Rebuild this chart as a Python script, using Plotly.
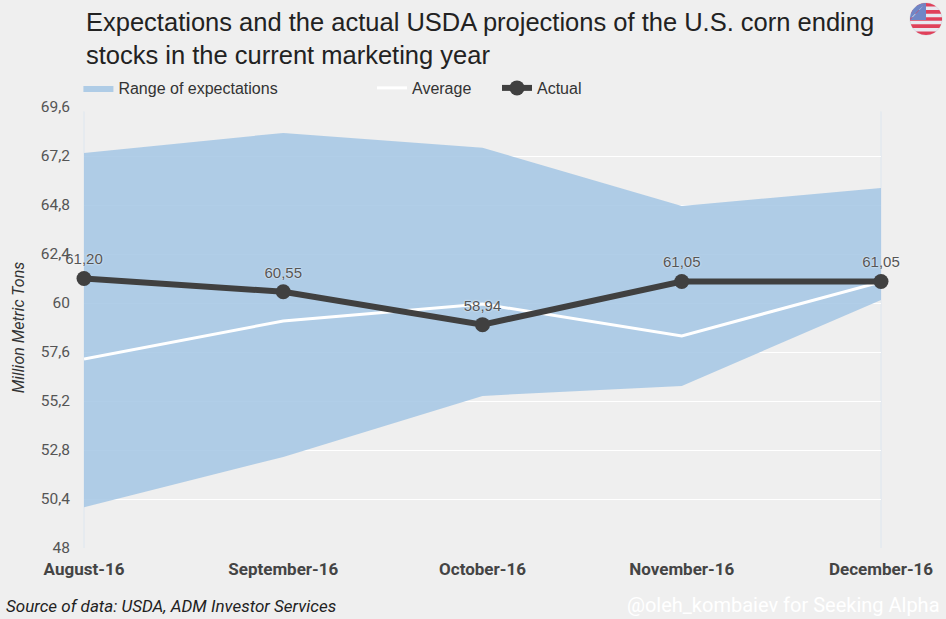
import plotly.graph_objects as go
import math

months = ["August-16", "September-16", "October-16", "November-16", "December-16"]
range_high = [67.35, 68.33, 67.6, 64.75, 65.63]
range_low = [50.0, 52.46, 55.45, 55.94, 60.15]
average = [57.26, 59.12, 59.95, 58.39, 61.03]
actual = [61.20, 60.55, 58.94, 61.05, 61.05]
actual_labels = ["61,20", "60,55", "58,94", "61,05", "61,05"]
y_ticks = [48, 50.4, 52.8, 55.2, 57.6, 60, 62.4, 64.8, 67.2, 69.6]

BG = "#efefef"
FONT = "Roboto, 'Noto Sans', sans-serif"
SANS = "'Liberation Sans', Arial, sans-serif"

fig = go.Figure()

fig.add_trace(go.Scatter(
    x=months + months[::-1],
    y=range_high + range_low[::-1],
    fill="toself",
    fillcolor="rgba(163,197,228,0.85)",
    line=dict(width=0, color="rgba(163,197,228,0.85)"),
    mode="lines",
    name="Range of expectations",
    hoverinfo="skip",
    legend="legend",
))

fig.add_trace(go.Scatter(
    x=months, y=average, mode="lines",
    line=dict(color="white", width=3),
    name="Average", legend="legend2",
))

fig.add_trace(go.Scatter(
    x=months, y=actual, mode="lines+markers+text",
    line=dict(color="#404040", width=6),
    marker=dict(color="#404040", size=15),
    text=actual_labels, textposition="top center",
    textfont=dict(size=15, color="#555555", family=SANS, shadow="0px 0px 2px white"),
    cliponaxis=False,
    name="Actual", legend="legend3",
))

# US flag icon (decoration)
def px2paper(px, py):
    return (px - 84) / 797, (548 - py) / 441

cx, cy, r = 926, 19, 16
shapes = []
def circle_path(n=40):
    pts = []
    for i in range(n + 1):
        a = 2 * math.pi * i / n
        pts.append(px2paper(cx + r * math.cos(a), cy + r * math.sin(a)))
    return "M " + " L ".join(f"{x:.5f},{y:.5f}" for x, y in pts) + " Z"

shapes.append(dict(type="path", xref="paper", yref="paper", path=circle_path(),
                   fillcolor="#e8e8f0", line=dict(width=0.5, color="#c8c8d0")))
nstr = 9
h = 2 * r / nstr
for k in range(0, nstr, 2):
    y0 = cy - r + k * h
    y1 = y0 + h
    pts_l, pts_r = [], []
    steps = 6
    for j in range(steps + 1):
        yy = y0 + (y1 - y0) * j / steps
        dy = yy - cy
        w = math.sqrt(max(r * r - dy * dy, 0))
        pts_r.append(px2paper(cx + w, yy))
        pts_l.append(px2paper(cx - w, yy))
    pts = pts_r + pts_l[::-1]
    shapes.append(dict(type="path", xref="paper", yref="paper",
                       path="M " + " L ".join(f"{x:.5f},{y:.5f}" for x, y in pts) + " Z",
                       fillcolor="#e0405a", line=dict(width=0)))
pts = []
for j in range(0, 11):
    a = math.pi + (math.pi / 2) * j / 10
    pts.append((cx + r * math.cos(a), cy + r * math.sin(a)))
canton = [(cx, cy - r), (cx, cy + 1), (cx - math.sqrt(r * r - 1), cy + 1)] + pts[::-1]
canton_p = [px2paper(x, y) for x, y in canton]
shapes.append(dict(type="path", xref="paper", yref="paper",
                   path="M " + " L ".join(f"{x:.5f},{y:.5f}" for x, y in canton_p) + " Z",
                   fillcolor="#6f86c6", line=dict(width=0)))

# faint vertical edge lines
shapes.append(dict(type="line", xref="paper", yref="paper", x0=0, x1=0, y0=0, y1=0.99,
                   line=dict(color="#dde6ef", width=1), layer="below"))
shapes.append(dict(type="line", xref="paper", yref="paper", x0=1, x1=1, y0=0, y1=0.99,
                   line=dict(color="#dde6ef", width=1), layer="below"))

LEG_Y = (548 - 88) / 441
LEG_FONT = dict(size=16, color="#333333", family=SANS)
fig.update_layout(
    width=946, height=619,
    paper_bgcolor=BG, plot_bgcolor=BG,
    margin=dict(l=84, r=65, t=107, b=71),
    separators=",.",
    font=dict(family=FONT, color="#333333"),
    xaxis=dict(
        type="category", range=[0, 4], showgrid=False, zeroline=False,
        tickfont=dict(size=17, color="#444444", family=FONT, weight="bold"),
        ticks="outside", ticklen=6, tickcolor="rgba(0,0,0,0)", fixedrange=True,
    ),
    yaxis=dict(
        range=[48, 69.6], tickvals=y_ticks, showgrid=True, gridcolor="white", gridwidth=1,
        zeroline=False, tickfont=dict(size=15.5, color="#555555", family=FONT),
        title=dict(text="<i>Million Metric Tons</i>", font=dict(size=16, color="#333333"), standoff=12),
        ticks="outside", ticklen=10, tickcolor="rgba(0,0,0,0)", fixedrange=True,
    ),
    legend=dict(x=-0.007, y=LEG_Y, xanchor="left", yanchor="middle",
                orientation="h", bgcolor="rgba(0,0,0,0)", font=LEG_FONT),
    legend2=dict(x=(372 - 84) / 797, y=LEG_Y, xanchor="left", yanchor="middle",
                 orientation="h", bgcolor="rgba(0,0,0,0)", font=LEG_FONT),
    legend3=dict(x=(497 - 84) / 797, y=LEG_Y, xanchor="left", yanchor="middle",
                 orientation="h", bgcolor="rgba(0,0,0,0)", font=LEG_FONT),
    shapes=shapes,
    annotations=[
        dict(text="Expectations and the actual USDA projections of the U.S. corn ending<br>stocks in the current marketing year",
             xref="paper", yref="paper", x=0, y=(548 - 6) / 441, xanchor="left", yanchor="top",
             align="left", showarrow=False, font=dict(size=25.5, color="#222222", family=SANS)),
        dict(text="<i>Source of data: USDA, ADM Investor Services</i>", xref="paper", yref="paper",
             x=-80 / 797, y=(548 - 606) / 441, xanchor="left", yanchor="middle", showarrow=False,
             font=dict(size=17, color="#222222", family=FONT)),
        dict(text="@oleh_kombaiev for Seeking Alpha", xref="paper", yref="paper",
             x=(942 - 84) / 797, y=(548 - 605) / 441, xanchor="right", yanchor="middle", showarrow=False,
             font=dict(size=20, color="white", family=FONT)),
    ],
    showlegend=True,
)

fig.write_html("out.html", config={"displayModeBar": False},
               post_script="document.body.style.margin='0';document.body.style.background='#efefef';")
